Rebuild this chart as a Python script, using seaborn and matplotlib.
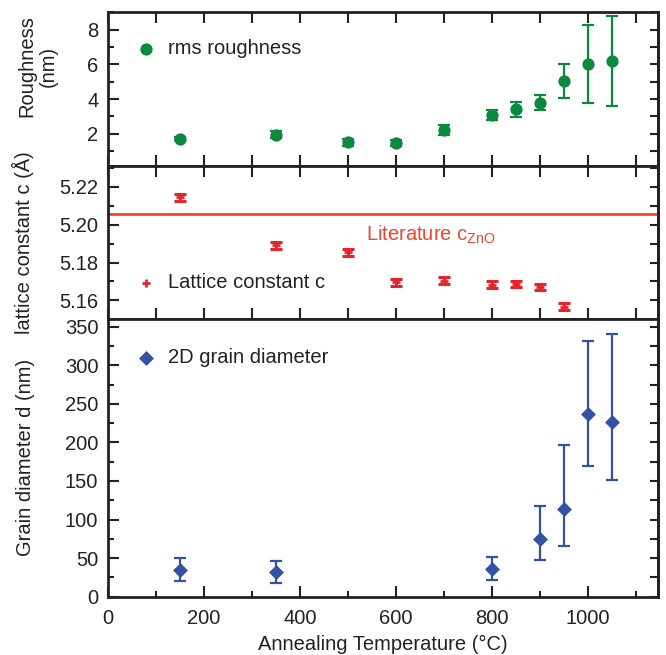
import numpy as np
import pandas as pd
import seaborn as sns
import matplotlib
matplotlib.use("Agg")
import matplotlib.pyplot as plt
from matplotlib.ticker import MultipleLocator, FormatStrFormatter

# ---------------- data ----------------
temp_rough = [150, 350, 500, 600, 700, 800, 850, 900, 950, 1000, 1050]
rough = [1.71, 1.94, 1.51, 1.46, 2.22, 3.07, 3.4, 3.8, 5.05, 6.0, 6.2]
rough_err = [0.1, 0.2, 0.2, 0.2, 0.3, 0.3, 0.45, 0.45, 1.0, 2.25, 2.6]

temp_lat = [150, 350, 500, 600, 700, 800, 850, 900, 950]
lat = [5.2144, 5.1891, 5.1853, 5.1695, 5.1705, 5.1684, 5.1687, 5.1671, 5.1566]
lat_err = [0.0018] * 9
lit_c = 5.2058

temp_grain = [150, 350, 800, 900, 950, 1000, 1050]
grain = [35, 32, 36, 75, 114, 237, 227]
grain_err_lo = [14, 14, 14, 27, 48, 67, 76]
grain_err_hi = [15, 14, 15, 43, 83, 94, 114]

green = "#0b8a3e"
red = "#e8232b"
lit_red = "#f0462f"
blue = "#3452a3"
ink = "#222222"

sns.set_theme(style="ticks")
plt.rcParams['font.family'] = ['Liberation Sans', 'DejaVu Sans']
plt.rcParams['mathtext.default'] = 'regular'
FS = 14.5

fig = plt.figure(figsize=(6.66, 6.55), dpi=100)
L, W = 0.1622, 0.826
ax1 = fig.add_axes([L, 0.747, W, 0.234])
ax2 = fig.add_axes([L, 0.513, W, 0.234])
ax3 = fig.add_axes([L, 0.089, W, 0.424])

df_r = pd.DataFrame({"T": temp_rough, "v": rough})
df_l = pd.DataFrame({"T": temp_lat, "v": lat})
df_g = pd.DataFrame({"T": temp_grain, "v": grain})

# top panel
ax1.errorbar(temp_rough, rough, yerr=rough_err, fmt='none', ecolor=green,
             elinewidth=1.6, capsize=4.5, capthick=1.6, zorder=2)
sns.scatterplot(data=df_r, x="T", y="v", ax=ax1, color=green, marker='o',
                s=78, edgecolor=green, linewidth=0, label="rms roughness", zorder=3)

# middle panel
ax2.axhline(lit_c, color=lit_red, lw=2.0, zorder=1)
ax2.errorbar(temp_lat, lat, yerr=lat_err, fmt='none', ecolor=red,
             elinewidth=2.2, capsize=4.5, capthick=2.2, zorder=2)
sns.scatterplot(data=df_l, x="T", y="v", ax=ax2, color=red, marker='+',
                s=40, linewidth=2.0, label="Lattice constant c", zorder=3)
ax2.text(537, 5.1917, r"Literature c$_{ZnO}$", color=lit_red, fontsize=FS,
         ha='left', va='baseline')

# bottom panel
ax3.errorbar(temp_grain, grain, yerr=[grain_err_lo, grain_err_hi], fmt='none',
             ecolor=blue, elinewidth=1.6, capsize=4.5, capthick=1.6, zorder=2)
sns.scatterplot(data=df_g, x="T", y="v", ax=ax3, color=blue, marker='D',
                s=58, linewidth=0, label="2D grain diameter", zorder=3)

for ax in (ax1, ax2, ax3):
    ax.set_xlim(0, 1146)
    for s in ax.spines.values():
        s.set_linewidth(2.0)
        s.set_color(ink)
    ax.tick_params(direction='in', which='both', width=1.5, colors=ink,
                   labelsize=FS, labelcolor=ink)
    ax.tick_params(which='major', length=8)
    ax.tick_params(which='minor', length=4)
    ax.tick_params(axis='y', pad=7)
    ax.tick_params(axis='x', pad=9)
    ax.set_xlabel("")

# x ticks
for ax in (ax1, ax2):
    ax.xaxis.set_major_locator(MultipleLocator(100))
    ax.tick_params(axis='x', top=True, bottom=True, labelbottom=False)
ax3.xaxis.set_major_locator(MultipleLocator(200))
ax3.xaxis.set_minor_locator(MultipleLocator(100))
ax3.tick_params(axis='x', top=False, bottom=True, which='both')

# y limits and ticks
ax1.set_ylim(0.15, 9.0)
ax1.yaxis.set_major_locator(MultipleLocator(2))
ax1.yaxis.set_minor_locator(MultipleLocator(1))
ax2.set_ylim(5.1502, 5.2311)
ax2.yaxis.set_major_locator(MultipleLocator(0.02))
ax2.yaxis.set_minor_locator(MultipleLocator(0.01))
ax2.yaxis.set_major_formatter(FormatStrFormatter('%.2f'))
ax3.set_ylim(0, 360)
ax3.yaxis.set_major_locator(MultipleLocator(50))
ax3.yaxis.set_minor_locator(MultipleLocator(25))

for ax, step in ((ax1, 1), (ax2, 0.01), (ax3, 25)):
    sec = ax.secondary_yaxis('right')
    sec.yaxis.set_major_locator(MultipleLocator(step))
    sec.tick_params(direction='in', length=6, width=1.5, labelright=False,
                    colors=ink)
    sec.spines['right'].set_linewidth(2.0)
    sec.spines['right'].set_color(ink)

# labels
ax1.set_ylabel("Roughness\n(nm)", fontsize=FS, color=ink, linespacing=1.15)
ax2.set_ylabel("lattice constant c (Å)", fontsize=FS, color=ink)
ax3.set_ylabel("Grain diameter d (nm)", fontsize=FS, color=ink)
ax1.yaxis.set_label_coords(-0.091, 0.65)
ax2.yaxis.set_label_coords(-0.135, 0.5)
ax3.yaxis.set_label_coords(-0.133, 0.5)
ax3.set_xlabel("Annealing Temperature (°C)", fontsize=FS, color=ink, labelpad=5)

# legends
for ax, yc in ((ax1, 0.766), (ax2, 0.235), (ax3, 0.86)):
    ax.legend(loc='center left', bbox_to_anchor=(0.051, yc), frameon=False,
              fontsize=FS, handlelength=1.0, handletextpad=0.6,
              borderpad=0, borderaxespad=0, labelcolor=ink)

fig.savefig("out.png", dpi=100)
